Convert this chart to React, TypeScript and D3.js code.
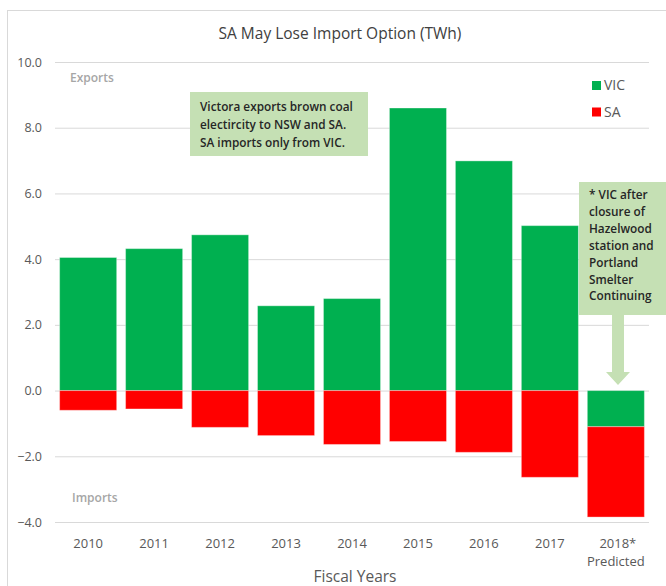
import React, { useEffect, useRef } from "react";
import * as d3 from "d3";

const years = ["2010", "2011", "2012", "2013", "2014", "2015", "2016", "2017", "2018*"];
const vicValues = [4.05, 4.32, 4.74, 2.58, 2.8, 8.6, 6.99, 5.02, -1.1];
const saValues = [-0.6, -0.56, -1.12, -1.37, -1.64, -1.55, -1.88, -2.64, -2.75];
const yTicks = [-4, -2, 0, 2, 4, 6, 8, 10];
const seriesNames = ["VIC", "SA"];
const noteLines = [
  "Victora exports brown coal",
  "electircity to NSW and SA.",
  "SA imports only from VIC.",
];
const sideNoteLines = [
  "* VIC after",
  "closure of",
  "Hazelwood",
  "station and",
  "Portland",
  "Smelter",
  "Continuing",
];

const FONT = "'Open Sans', 'Liberation Sans', sans-serif";

const App: React.FC = () => {
  const ref = useRef<SVGSVGElement | null>(null);

  useEffect(() => {
    const svg = d3.select(ref.current);
    svg.selectAll("*").remove();

    const width = 666;
    const height = 586;

    svg.attr("width", width).attr("height", height).style("font-family", FONT);

    svg
      .append("rect")
      .attr("width", width)
      .attr("height", height)
      .attr("fill", "#fff");

    // outer frame
    svg
      .append("rect")
      .attr("x", 7.5)
      .attr("y", 10.5)
      .attr("width", 700)
      .attr("height", 620)
      .attr("fill", "none")
      .attr("stroke", "#d9d9d9");

    const x = d3
      .scaleBand()
      .domain(years)
      .range([55, 649])
      .paddingInner(0.135)
      .paddingOuter(0.07);

    const y = d3.scaleLinear().domain([-4, 10]).range([522, 62]);

    const color = d3
      .scaleOrdinal<string>()
      .domain(seriesNames)
      .range(["#00b050", "#ff0000"]);

    // title
    svg
      .append("text")
      .attr("x", 340)
      .attr("y", 39)
      .attr("text-anchor", "middle")
      .style("font-size", "15.5px")
      .attr("fill", "#404040")
      .text("SA May Lose Import Option (TWh)");

    // gridlines
    svg
      .append("g")
      .selectAll("line")
      .data(yTicks)
      .join("line")
      .attr("x1", 55)
      .attr("x2", 649)
      .attr("y1", (d) => y(d) + 0.5)
      .attr("y2", (d) => y(d) + 0.5)
      .attr("stroke", "#d9d9d9")
      .attr("stroke-width", 1);

    // Y tick labels
    svg
      .append("g")
      .selectAll("text")
      .data(yTicks)
      .join("text")
      .attr("x", 42)
      .attr("y", (d) => y(d) + 4.5)
      .attr("text-anchor", "end")
      .style("font-size", "12.5px")
      .attr("fill", "#595959")
      .text((d) => d3.format(".1f")(d));

    // stacked bars
    const table = years.map((yr, i) => ({ year: yr, VIC: vicValues[i], SA: saValues[i] }));
    const stacked = d3
      .stack<any>()
      .keys(seriesNames)
      .offset(d3.stackOffsetDiverging)(table);

    svg
      .append("g")
      .selectAll("g")
      .data(stacked)
      .join("g")
      .attr("fill", (d) => color(d.key))
      .selectAll("rect")
      .data((d) => d)
      .join("rect")
      .attr("x", (d) => x(d.data.year)!)
      .attr("width", x.bandwidth())
      .attr("y", (d) => y(Math.max(d[0], d[1])))
      .attr("height", (d) => Math.abs(y(d[0]) - y(d[1])))
      .attr("stroke", "#ffffff")
      .attr("stroke-opacity", 0.35)
      .attr("stroke-width", 1);

    // X labels
    const xl = svg.append("g");
    years.forEach((yr) => {
      const cx = x(yr)! + x.bandwidth() / 2;
      xl.append("text")
        .attr("x", cx + (yr.endsWith("*") ? 2 : 0))
        .attr("y", 548)
        .attr("text-anchor", "middle")
        .style("font-size", "13px")
        .attr("fill", "#595959")
        .text(yr);
    });
    xl.append("text")
      .attr("x", x("2018*")! + x.bandwidth() / 2)
      .attr("y", 566)
      .attr("text-anchor", "middle")
      .style("font-size", "13px")
      .attr("fill", "#595959")
      .text("Predicted");

    svg
      .append("text")
      .attr("x", 355)
      .attr("y", 582)
      .attr("text-anchor", "middle")
      .style("font-size", "15.5px")
      .attr("fill", "#595959")
      .text("Fiscal Years");

    // Exports / Imports
    svg
      .append("text")
      .attr("x", 70)
      .attr("y", 82)
      .style("font-size", "12px")
      .style("font-weight", "600")
      .attr("fill", "#a6a6a6")
      .text("Exports");
    svg
      .append("text")
      .attr("x", 72)
      .attr("y", 502)
      .style("font-size", "12px")
      .style("font-weight", "600")
      .attr("fill", "#a6a6a6")
      .text("Imports");

    // Legend
    const legend = svg.append("g").attr("transform", "translate(592, 81)");
    seriesNames.forEach((key, i) => {
      const row = legend.append("g").attr("transform", `translate(0, ${i * 26.5})`);
      row.append("rect").attr("width", 9).attr("height", 9).attr("fill", color(key));
      row
        .append("text")
        .attr("x", 12)
        .attr("y", 9)
        .style("font-size", "14px")
        .attr("fill", "#595959")
        .text(key);
    });

    // annotation box
    svg
      .append("rect")
      .attr("x", 190)
      .attr("y", 92)
      .attr("width", 178)
      .attr("height", 64)
      .attr("fill", "#c5e0b4");
    noteLines.forEach((t, i) => {
      svg
        .append("text")
        .attr("x", 200)
        .attr("y", 111 + i * 18)
        .style("font-size", "11.8px")
        .style("font-weight", "600")
        .attr("fill", "#262626")
        .text(t);
    });

    // side note with arrow
    svg
      .append("path")
      .attr(
        "d",
        "M579,182 L670,182 L670,315 L624,315 L624,372 L630,372 L618,385 L606,372 L612,372 L612,315 L579,315 Z"
      )
      .attr("fill", "#c5e0b4");
    sideNoteLines.forEach((t, i) => {
      svg
        .append("text")
        .attr("x", 589)
        .attr("y", 199 + i * 16.9)
        .style("font-size", "11.8px")
        .style("font-weight", "600")
        .attr("fill", "#262626")
        .text(t);
    });
  }, []);

  return <svg ref={ref} style={{ position: "absolute", left: 0, top: 0 }} />;
};

export default App;
